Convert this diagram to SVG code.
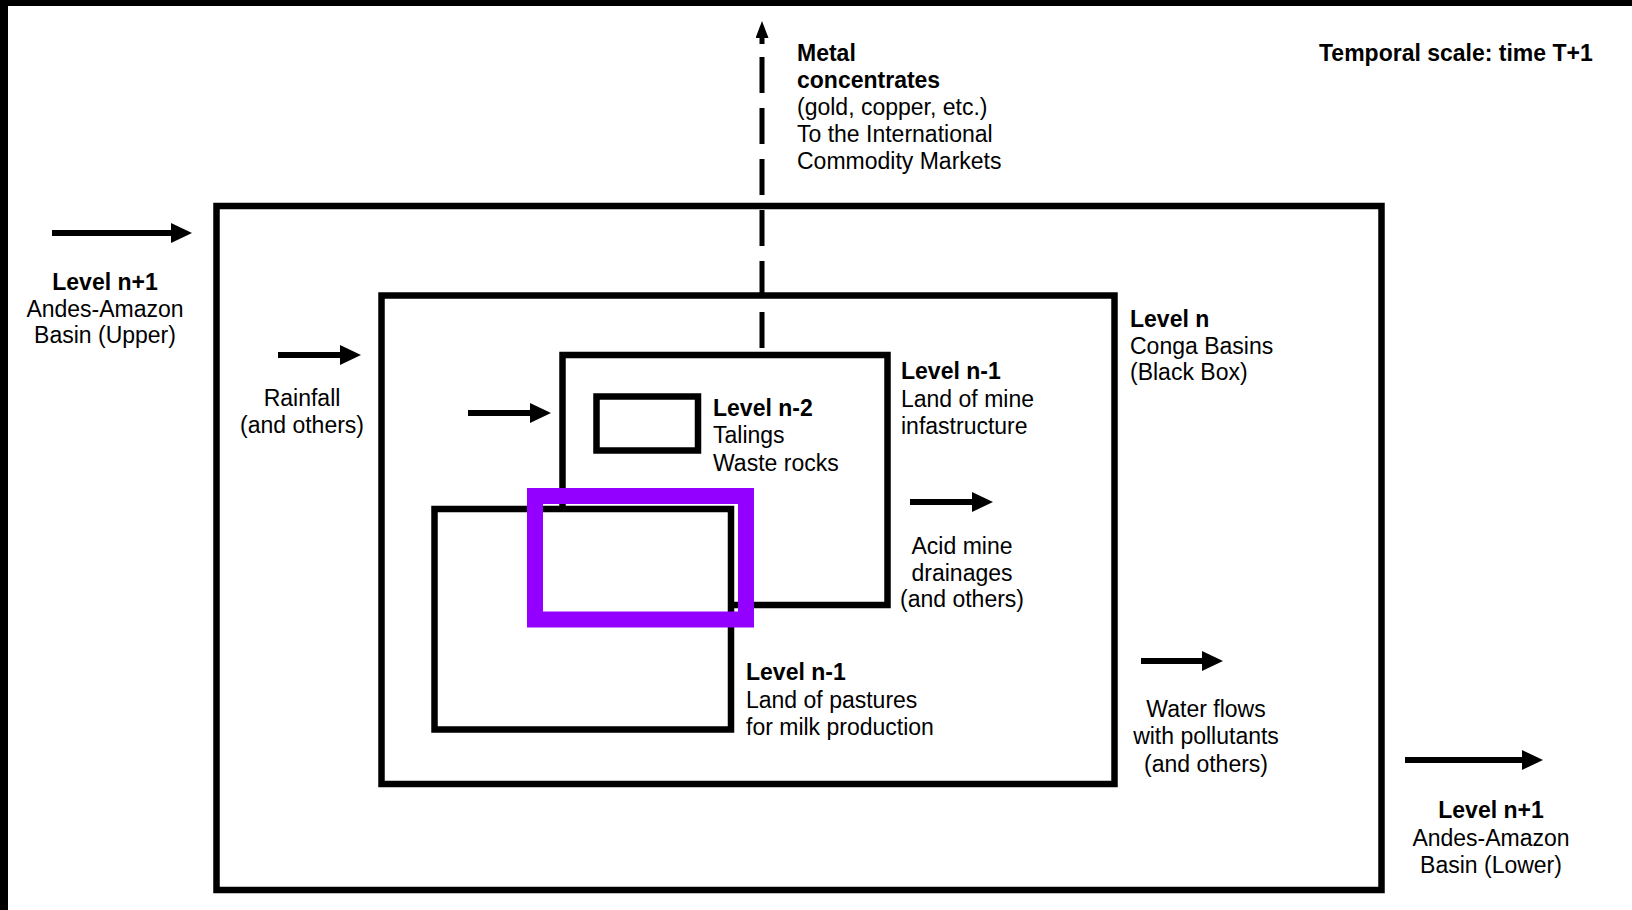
<svg xmlns="http://www.w3.org/2000/svg" width="1632" height="910" viewBox="0 0 1632 910">
  <style>
    text { font-family: "Liberation Sans", Arial, sans-serif; font-size: 23px; fill: #000; }
    .b { font-weight: bold; }
    .box { fill: none; stroke: #000; stroke-width: 6.5; }
    .wbox { fill: #fff; stroke: #000; stroke-width: 6.5; }
    .arr { stroke: #000; stroke-width: 6; fill: none; marker-end: url(#ah); }
    .dash { stroke: #000; stroke-width: 5; fill: none; stroke-dasharray: 36 15; }
    .mid { text-anchor: middle; }
  </style>
  <defs>
    <marker id="ah" viewBox="0 0 21 20" refX="11" refY="10" markerWidth="21" markerHeight="20" markerUnits="userSpaceOnUse" orient="auto">
      <path d="M0,0 L21,10 L0,20 z" fill="#000"/>
    </marker>
    <marker id="ahs" viewBox="0 0 17 13" refX="8" refY="6.5" markerWidth="17" markerHeight="13" markerUnits="userSpaceOnUse" orient="auto">
      <path d="M0,0 L17,6.5 L0,13 z" fill="#000"/>
    </marker>
  </defs>
  <rect x="0" y="0" width="1632" height="910" fill="#fff"/>
  <rect x="0" y="0" width="1632" height="6" fill="#000"/>
  <rect x="0" y="0" width="8" height="910" fill="#000"/>

  <g id="outer-basin">
    <rect class="box" x="216.5" y="206" width="1165" height="684"/>
  </g>
  <g id="conga-basins">
    <rect class="box" x="381.5" y="295.5" width="733" height="488.5"/>
    <text x="1130" y="327" class="b">Level n</text>
    <text x="1130" y="354">Conga Basins</text>
    <text x="1130" y="380">(Black Box)</text>
  </g>
  <g id="mine-infrastructure">
    <rect class="box" x="562.5" y="355" width="325" height="250"/>
    <text x="901" y="379" class="b">Level n-1</text>
    <text x="901" y="407">Land of mine</text>
    <text x="901" y="434">infastructure</text>
  </g>
  <g id="tailings">
    <rect class="box" x="596.5" y="396.5" width="101.5" height="54"/>
    <text x="713" y="416" class="b">Level n-2</text>
    <text x="713" y="443">Talings</text>
    <text x="713" y="471">Waste rocks</text>
  </g>
  <g id="pastures">
    <rect class="wbox" x="434.5" y="509" width="296.5" height="220.5"/>
    <text x="746" y="680" class="b">Level n-1</text>
    <text x="746" y="708">Land of pastures</text>
    <text x="746" y="735">for milk production</text>
  </g>
  <g id="highlight">
    <rect x="535" y="496" width="211" height="123.5" fill="none" stroke="#9400ff" stroke-width="16"/>
  </g>

  <g id="connectors">
    <path class="dash" d="M762,57 L762,352"/>
    <path d="M762,44 L762,30" stroke="#000" stroke-width="5" marker-end="url(#ahs)"/>
    <line class="arr" x1="52" y1="233" x2="182" y2="233"/>
    <line class="arr" x1="278" y1="355" x2="351" y2="355"/>
    <line class="arr" x1="468" y1="413" x2="541" y2="413"/>
    <line class="arr" x1="910" y1="502" x2="983" y2="502"/>
    <line class="arr" x1="1141" y1="661" x2="1213" y2="661"/>
    <line class="arr" x1="1405" y1="760" x2="1533" y2="760"/>
  </g>

  <g id="label-time">
    <text x="1319" y="61" class="b">Temporal scale: time T+1</text>
  </g>
  <g id="label-metal">
    <text x="797" y="61" class="b">Metal</text>
    <text x="797" y="88" class="b">concentrates</text>
    <text x="797" y="115">(gold, copper, etc.)</text>
    <text x="797" y="142">To the International</text>
    <text x="797" y="169">Commodity Markets</text>
  </g>
  <g id="label-upper">
    <text x="105" y="290" class="b mid">Level n+1</text>
    <text x="105" y="316.5" class="mid">Andes-Amazon</text>
    <text x="105" y="343" class="mid">Basin (Upper)</text>
  </g>
  <g id="label-rainfall">
    <text x="302" y="406" class="mid">Rainfall</text>
    <text x="302" y="433" class="mid">(and others)</text>
  </g>
  <g id="label-acid">
    <text x="962" y="554" class="mid">Acid mine</text>
    <text x="962" y="581" class="mid">drainages</text>
    <text x="962" y="607" class="mid">(and others)</text>
  </g>
  <g id="label-water">
    <text x="1206" y="717" class="mid">Water flows</text>
    <text x="1206" y="744" class="mid">with pollutants</text>
    <text x="1206" y="772" class="mid">(and others)</text>
  </g>
  <g id="label-lower">
    <text x="1491" y="818" class="b mid">Level n+1</text>
    <text x="1491" y="846" class="mid">Andes-Amazon</text>
    <text x="1491" y="873" class="mid">Basin (Lower)</text>
  </g>
</svg>
